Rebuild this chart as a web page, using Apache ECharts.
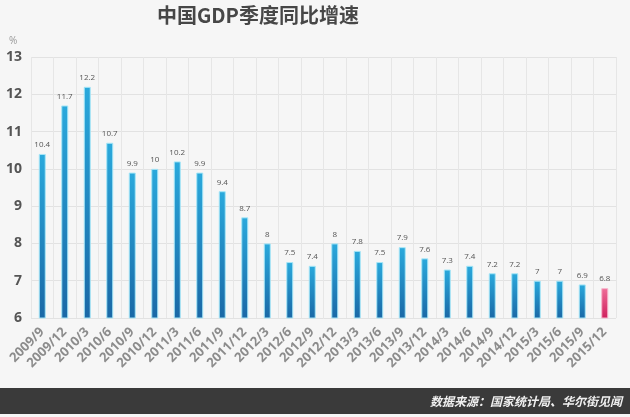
<!DOCTYPE html>
<html>
<head>
<meta charset="utf-8">
<script src="https://cdn.jsdelivr.net/npm/echarts@6/dist/echarts.min.js"></script>
<style>html,body{margin:0;padding:0;background:#f6f6f6;}#c{width:630px;height:417px;}</style>
</head>
<body>
<div id="c"></div>
<script>
const categories = ['2009/9','2009/12','2010/3','2010/6','2010/9','2010/12','2011/3','2011/6','2011/9','2011/12','2012/3','2012/6','2012/9','2012/12','2013/3','2013/6','2013/9','2013/12','2014/3','2014/6','2014/9','2014/12','2015/3','2015/6','2015/9','2015/12'];
const gdpGrowth = [10.4,11.7,12.2,10.7,9.9,10,10.2,9.9,9.4,8.7,8,7.5,7.4,8,7.8,7.5,7.9,7.6,7.3,7.4,7.2,7.2,7,7,6.9,6.8];
const highlightIndex = 25;

const blueGrad = new echarts.graphic.LinearGradient(0,0,0,1,[{offset:0,color:'#2aa9dc'},{offset:1,color:'#1a68a6'}]);
const pinkGrad = new echarts.graphic.LinearGradient(0,0,0,1,[{offset:0,color:'#ee6d98'},{offset:1,color:'#cf1f5c'}]);

const chart = echarts.init(document.getElementById('c'));
chart.setOption({
  backgroundColor:'#f6f6f6',
  animation:false,
  grid:{left:31,right:14,top:57,bottom:99},
  xAxis:{
    type:'category',data:categories,
    axisLine:{show:false},axisTick:{show:false},
    splitLine:{show:true,lineStyle:{color:'#e6e6e6',width:1}},
    axisLabel:{rotate:45,fontSize:13,fontWeight:'bold',color:'#8c8c8c',margin:12,interval:0,fontFamily:'Open Sans'}
  },
  yAxis:{
    type:'value',min:6,max:13,interval:1,
    axisLine:{show:false},axisTick:{show:false},
    splitLine:{lineStyle:{color:'#e2e2e2',width:1}},
    axisLabel:{fontSize:14,fontWeight:'bold',color:'#555',margin:9,fontFamily:'Open Sans'}
  },
  series:[{
    type:'bar',barWidth:7,
    data:gdpGrowth.map((v,i)=>({value:v,itemStyle:{color:i===highlightIndex?pinkGrad:blueGrad,borderColor:i===highlightIndex?'#f7b6cc':'#a6e6f7',borderWidth:1}})),
    label:{show:true,position:'top',distance:5,fontSize:8,color:'#555',fontFamily:'Open Sans'}
  }],
  graphic:[
    {type:'text',left:157,top:5,style:{text:'中国GDP季度同比增速',font:'bold 20px "Noto Sans CJK SC"',fill:'#474747'}},
    {type:'text',left:9,top:36,style:{text:'%',font:'10px "Open Sans"',fill:'#999'}},
    {type:'rect',shape:{x:0,y:388,width:630,height:26},style:{fill:'#3a3a3a'}},
    {type:'text',right:8,top:395,style:{text:'数据来源：国家统计局、华尔街见闻',font:'italic bold 12px "Noto Sans CJK SC"',fill:'#f0f0f0'}}
  ]
});
</script>
</body>
</html>
